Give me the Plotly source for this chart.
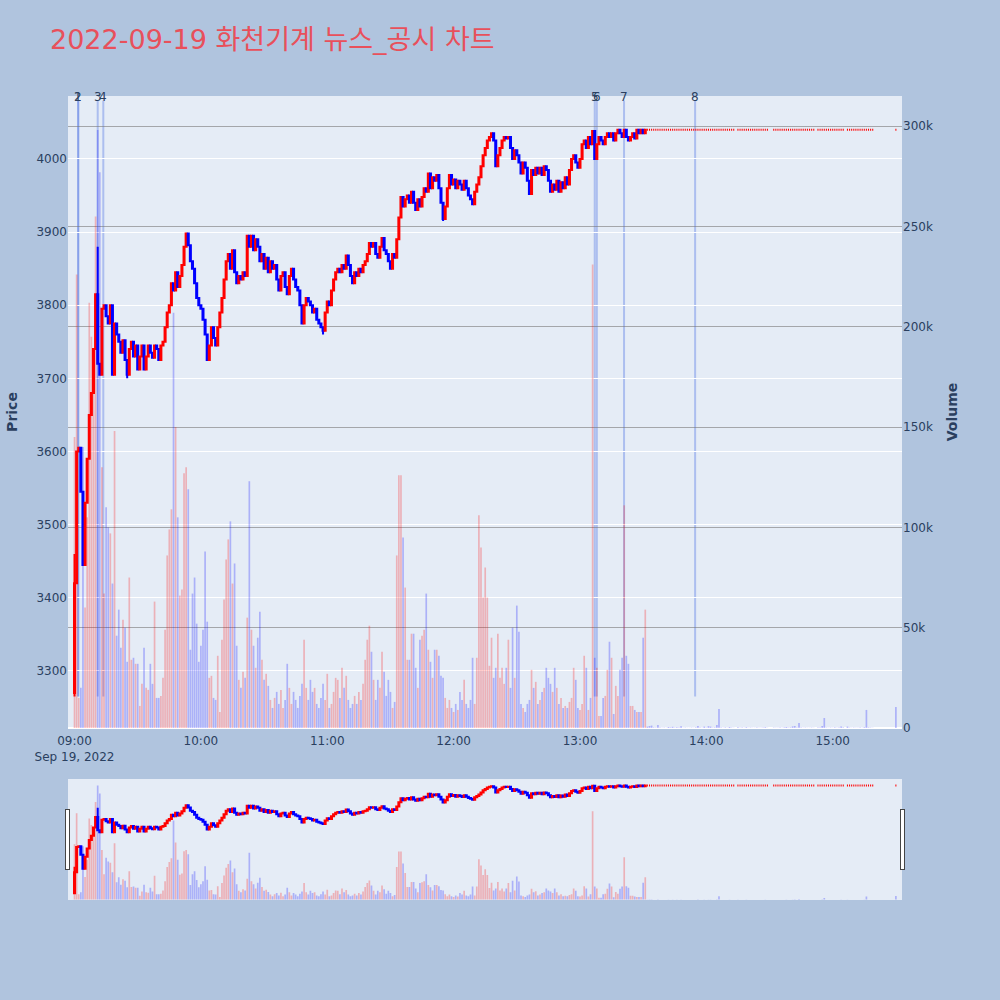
import pandas as pd
import plotly.graph_objects as go
from plotly.subplots import make_subplots

session_date = "2022-09-19"
title_text = "2022-09-19 화천기계 뉴스_공시 차트"

# ---- 1-minute closes, 09:00 .. 13:31 ----
first_open = 3270
close_am = [
    3420, 3600, 3605, 3545, 3445, 3530, 3590, 3650, 3680, 3740,
    3815, 3720, 3705, 3795, 3800, 3785, 3775, 3800, 3705, 3775,
    3760, 3750, 3735, 3752, 3725, 3705, 3740, 3750, 3730, 3745,
    3712, 3730, 3745, 3712, 3730, 3745, 3735, 3728, 3745, 3740,
    3725, 3745, 3750, 3770, 3790, 3800, 3830, 3820, 3845, 3825,
    3840, 3855, 3880, 3898, 3882, 3860, 3850, 3830, 3810, 3800,
    3795, 3780, 3760, 3725, 3745, 3770, 3755, 3745, 3770, 3790,
    3810, 3835, 3860, 3870, 3850, 3875, 3845, 3830, 3840, 3835,
    3845, 3840, 3895, 3880, 3895, 3875, 3890, 3880, 3860, 3870,
    3850, 3865, 3845, 3860, 3850, 3855, 3835, 3820, 3840, 3845,
    3825, 3815, 3840, 3850, 3835, 3825, 3820, 3800, 3775, 3800,
    3810, 3805, 3800, 3790, 3795, 3780, 3775, 3770, 3765, 3790,
    3805, 3800, 3820, 3835, 3845, 3850, 3845, 3855, 3850, 3868,
    3855, 3840, 3830, 3845, 3840, 3850, 3845, 3855, 3860, 3870,
    3885, 3880, 3885, 3870, 3865, 3880, 3892, 3875, 3870, 3860,
    3850, 3870, 3865, 3890, 3920, 3948, 3935, 3945, 3950, 3940,
    3955, 3940, 3930, 3945, 3935, 3948, 3960, 3955, 3980, 3960,
    3975, 3970, 3978, 3960, 3940, 3918, 3935, 3960, 3978, 3965,
    3972, 3960, 3970, 3965, 3958, 3970, 3960, 3950, 3945, 3938,
    3955, 3965, 3975, 3990, 4005, 4015, 4025, 4030, 4035, 4025,
    3990, 4005, 4015, 4025, 4030, 4028, 4030, 4015, 4000, 4012,
    4005, 3995, 3980, 3995, 3988, 3970, 3952, 3985, 3978, 3988,
    3980, 3988, 3978, 3990, 3985, 3970, 3955, 3965, 3958, 3970,
    3955, 3968, 3960, 3975, 3965, 3985, 4000, 4005, 3995, 3988,
    4000, 4020, 4025, 4015, 4030, 4020, 4038, 4000, 4020, 4030,
    4025, 4020, 4030, 4035, 4030, 4035, 4025, 4035, 4040, 4035,
    4030, 4040, 4030, 4025, 4030, 4035, 4028, 4040, 4035, 4040,
    4035, 4040,
]
high_extra = {0: 3460, 11: 3880}
low_extra = {0: 3265, 25: 3700, 118: 3760, 175: 3915}

# volume in thousands of shares, 09:00 .. 13:31
volume_am_k = [
    145, 226, 15, 20, 140, 60, 105, 212, 195, 170,
    255, 298, 277, 130, 67, 110, 100, 97, 72, 148,
    46, 59, 40, 54, 50, 33, 75, 34, 35, 32,
    32, 11, 22, 40, 20, 19, 32, 22, 63, 15,
    15, 16, 25, 49, 86, 99, 109, 207, 150, 105,
    66, 69, 127, 130, 119, 39, 67, 75, 52, 33,
    41, 49, 88, 53, 25, 26, 15, 14, 36, 8,
    44, 64, 84, 94, 103, 72, 82, 41, 24, 20,
    28, 25, 55, 123, 49, 41, 30, 45, 58, 34,
    24, 27, 21, 14, 10, 15, 18, 12, 19, 10,
    14, 32, 20, 12, 18, 14, 10, 16, 22, 44,
    20, 14, 24, 18, 20, 12, 10, 15, 22, 14,
    27, 10, 12, 18, 25, 24, 15, 30, 20, 26,
    14, 10, 12, 16, 12, 18, 14, 22, 34, 44,
    51, 38, 24, 14, 24, 20, 38, 28, 16, 24,
    18, 10, 13, 86, 126, 126, 95, 70, 34, 34,
    47, 47, 30, 20, 44, 46, 49, 67, 39, 33,
    25, 39, 39, 36, 26, 25, 15, 10, 14, 10,
    8, 12, 9, 18, 14, 24, 12, 10, 14, 35,
    12, 35, 106, 90, 65, 80, 65, 31, 45, 25,
    30, 47, 25, 30, 22, 30, 44, 20, 50, 25,
    61, 48, 12, 10, 8, 12, 14, 29, 20, 23,
    12, 14, 18, 20, 30, 25, 22, 18, 30, 20,
    12, 15, 10, 11, 10, 13, 15, 30, 24, 10,
    9, 12, 36, 30, 9, 15, 231, 35, 30, 6,
    6, 15, 16, 29, 43, 35, 7, 21, 16, 29,
    35, 111, 36, 32, 11, 11, 9, 8, 8, 8,
    45, 59,
]

# ---- afternoon: price pinned at 4040, trades in these minute blocks ----
late_segments = [("13:32", "14:13"), ("14:15", "14:29"), ("14:32", "14:51"),
                 ("14:53", "15:05"), ("15:07", "15:19"), ("15:30", "15:30")]
late_price = 4040
late_volume_k = [
    0.7, 1.0, 1.2, 0.3, 0.2, 1.5, 0.3, 0.1, 0.2, 0.1,
    0.5, 0.3, 0.6, 0.2, 0.4, 0.3, 0.9, 0.1, 0.2, 0.1,
    0.1, 0.2, 0.1, 0.3, 1.0, 0.2, 0.1, 0.7, 0.2, 0.9,
    0.7, 0.2, 0.3, 1.5, 9.5, 0.2, 0.1, 0.3, 0.1, 0.5,
    0.2, 0.1,
    0.4, 0.1, 0.2, 0.1, 0.4, 0.1, 0.2, 0.1, 0.1, 0.2, 0.1, 0.1, 0.2, 0.4, 0.1,
    0.2, 0.1, 0.1, 0.2, 0.1, 0.3, 0.5, 0.2, 0.3, 0.8,
    1.0, 0.3, 2.5, 0.2, 0.1, 0.2, 0.1, 0.1, 0.2, 0.1,
    0.2, 0.3, 1.0, 5.0, 0.2, 0.1, 0.2, 0.1, 0.3, 0.1, 0.2, 0.8, 0.3,
    0.7, 0.2, 0.1, 0.2, 0.1, 0.1, 0.2, 0.1, 0.4, 9.0, 0.3, 0.2, 0.1,
    10.5,
]

# ---- news / disclosure markers ----
event_times = ["09:01:40", "09:01:50", "09:11:00", "09:13:40",
               "13:07:00", "13:08:00", "13:20:55", "13:54:40"]
event_labels = ["1", "2", "3", "4", "5", "6", "7", "8"]
event_line_low = 3265
event_line_high = 4080

price_range = [3222, 4086]
volume_range = [0, 315000]
x_range = [f"{session_date} 08:56:54", f"{session_date} 15:32:54"]

# ---- build series ----
am_times = list(pd.date_range(f"{session_date} 09:00", periods=len(close_am), freq="min"))
opens = [first_open] + close_am[:-1]
highs = [max(o, c) for o, c in zip(opens, close_am)]
lows = [min(o, c) for o, c in zip(opens, close_am)]
for k, v in high_extra.items():
    highs[k] = v
for k, v in low_extra.items():
    lows[k] = v

late_times = []
for a, b in late_segments:
    late_times += list(pd.date_range(f"{session_date} {a}", f"{session_date} {b}", freq="min"))
n_late = len(late_times)

times = am_times + late_times
o_all = opens + [late_price] * n_late
h_all = highs + [late_price] * n_late
l_all = lows + [late_price] * n_late
c_all = close_am + [late_price] * n_late
vol_all = [v * 1000 for v in volume_am_k] + [v * 1000 for v in late_volume_k]

RED_BAR = "rgba(255,0,0,0.25)"
BLUE_BAR = "rgba(0,0,255,0.25)"
bar_colors = [RED_BAR if c > o else BLUE_BAR for o, c in zip(o_all, c_all)]

FONT = "DejaVu Sans, Noto Sans CJK KR"

fig = make_subplots(specs=[[{"secondary_y": True}]])

fig.add_trace(go.Candlestick(
    x=times, open=o_all, high=h_all, low=l_all, close=c_all,
    increasing=dict(line=dict(color="red", width=2), fillcolor="red"),
    decreasing=dict(line=dict(color="blue", width=2), fillcolor="blue"),
    name="Price", showlegend=False,
), secondary_y=False)

fig.add_trace(go.Bar(
    x=times, y=vol_all, marker=dict(color=bar_colors, line=dict(width=0)),
    name="Volume", showlegend=False,
), secondary_y=True)

for t, lab in zip(event_times, event_labels):
    ts = f"{session_date} {t}"
    fig.add_shape(type="line", xref="x", yref="y", x0=ts, x1=ts,
                  y0=event_line_low, y1=event_line_high,
                  line=dict(color="rgba(65,105,225,0.35)", width=2), layer="below")
    fig.add_annotation(x=ts, y=1, xref="x", yref="paper", text=lab, showarrow=False,
                       yanchor="middle", yshift=-1,
                       font=dict(family=FONT, size=12, color="#2a3f5f"))

fig.update_layout(
    width=1000, height=1000,
    paper_bgcolor="#B0C4DE", plot_bgcolor="#E5ECF6",
    font=dict(family=FONT, size=12, color="#2a3f5f"),
    title=dict(text=title_text, x=0.05, xanchor="left", y=0.96, yanchor="middle",
               font=dict(family=FONT, size=27, color="#E8505B")),
    margin=dict(l=68, r=98, t=96, b=100),
    bargap=0.2,
    showlegend=False,
)
fig.update_xaxes(
    domain=[0, 1],
    range=x_range, showgrid=False,
    ticks="outside", ticklen=2, tickcolor="rgba(0,0,0,0)",
    rangeslider=dict(visible=True, thickness=0.15, bgcolor="#E5ECF6", range=x_range),
)
fig.update_yaxes(
    title_text="<b>Price</b>", title_font=dict(size=14), range=price_range,
    gridcolor="white", zeroline=False, secondary_y=False,
)
fig.update_yaxes(
    title_text="<b>Volume</b>", title_font=dict(size=14), range=volume_range,
    gridcolor="rgba(120,120,120,0.6)", secondary_y=True,
)

fig.write_html("out.html", config={"displayModeBar": False},
               post_script="document.body.style.margin='0';")
